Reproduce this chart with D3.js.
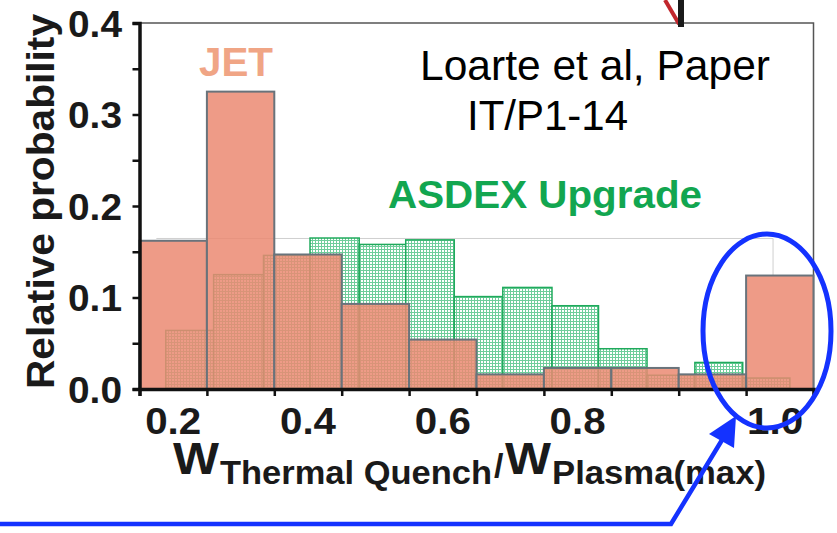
<!DOCTYPE html>
<html>
<head>
<meta charset="utf-8">
<script src="https://cdn.jsdelivr.net/npm/d3@7"></script>
<style>
  body { margin: 0; background: #fff; }
  svg { display: block; font-family: "Liberation Sans", Arial, sans-serif; }
</style>
</head>
<body>
<svg id="chart" width="837" height="533"></svg>
<script>
// JET histogram, bins of 0.1
const jetEdges = [0.15, 0.25, 0.35, 0.45, 0.55, 0.65, 0.75, 0.85, 0.95, 1.05, 1.15];
const jetValues = [0.162, 0.325, 0.147, 0.093, 0.054, 0.016, 0.023, 0.023, 0.016, 0.124];

// ASDEX Upgrade histogram (its own, narrower bins)
const asdexEdges = [0.189, 0.26, 0.334, 0.403, 0.476, 0.545, 0.617, 0.689, 0.762, 0.831, 0.903, 0.974, 1.045, 1.115];
const asdexValues = [0.064, 0.125, 0.146, 0.165, 0.158, 0.163, 0.101, 0.111, 0.091, 0.044, 0.015, 0.029, 0.012];

const yTicks = [0, 0.05, 0.1, 0.15, 0.2, 0.25, 0.3, 0.35, 0.4];
const xLabels = ["0.2", "0.4", "0.6", "0.8", "1.0"];
const xLabelPos = [0.2, 0.4, 0.6, 0.8, 1.093];

const svg = d3.select("#chart");

const x = d3.scaleLinear().domain([0.15, 1.15]).range([139.5, 813.5]);
const y = d3.scaleLinear().domain([0, 0.4]).range([389, 23]);

// hatch for ASDEX bars
const defs = svg.append("defs");
const pat = defs.append("pattern")
  .attr("id", "hatch")
  .attr("width", 3)
  .attr("height", 3)
  .attr("patternUnits", "userSpaceOnUse");
pat.append("rect").attr("width", 3).attr("height", 3).attr("fill", "#fff");
pat.append("rect").attr("width", 1).attr("height", 3).attr("fill", "#6fcd9b");
pat.append("rect").attr("width", 3).attr("height", 1).attr("fill", "#6fcd9b");

// plot frame (top/right)
svg.append("path")
  .attr("d", `M${x(0.15)},${y(0.4)}H${x(1.15)}V${y(0)}`)
  .attr("fill", "none")
  .attr("stroke", "#555")
  .attr("stroke-width", 1.5);

// faint frame of the ASDEX plot
svg.append("path")
  .attr("d", `M${x(0.175)},${y(0.1645)}H${x(1.09)}V${y(0.124)}`)
  .attr("fill", "none")
  .attr("stroke", "#cfcfcf")
  .attr("stroke-width", 1);

const asdex = asdexValues.map((v, i) => ({ x0: asdexEdges[i], x1: asdexEdges[i + 1], v }));
const jet = jetValues.map((v, i) => ({ x0: jetEdges[i], x1: jetEdges[i + 1], v }));

svg.append("g")
  .selectAll("rect")
  .data(asdex)
  .enter()
  .append("rect")
  .attr("x", d => x(d.x0))
  .attr("y", d => y(d.v))
  .attr("width", d => x(d.x1) - x(d.x0))
  .attr("height", d => y(0) - y(d.v))
  .attr("fill", "url(#hatch)")
  .attr("stroke", "#1faa5c")
  .attr("stroke-width", 1.5);

svg.append("g")
  .selectAll("rect")
  .data(jet)
  .enter()
  .append("rect")
  .attr("x", d => x(d.x0))
  .attr("y", d => y(d.v))
  .attr("width", d => x(d.x1) - x(d.x0))
  .attr("height", d => y(0) - y(d.v))
  .attr("fill", "#eb8a72")
  .attr("fill-opacity", 0.85)
  .attr("stroke", "#69737b")
  .attr("stroke-width", 2);

// axes
const yAxis = svg.append("g")
  .attr("transform", `translate(${x(0.15)},0)`)
  .call(d3.axisLeft(y).tickValues(yTicks).tickSize(7).tickFormat(""));
const xAxis = svg.append("g")
  .attr("transform", `translate(0,${y(0)})`)
  .call(d3.axisBottom(x).tickValues(jetEdges).tickSize(7).tickFormat(""));
[yAxis, xAxis].forEach(g => {
  g.select(".domain").attr("stroke", "#111").attr("stroke-width", 3.5);
  g.selectAll(".tick line").attr("stroke", "#111").attr("stroke-width", 2.5);
});

svg.append("g")
  .selectAll("text")
  .data(yTicks.filter((d, i) => i % 2 === 0))
  .enter()
  .append("text")
  .attr("x", 122)
  .attr("y", d => y(d) + 13.5)
  .attr("text-anchor", "end")
  .attr("font-size", 37)
  .attr("font-weight", "bold")
  .attr("fill", "#1a1a1a")
  .attr("textLength", 54)
  .attr("lengthAdjust", "spacingAndGlyphs")
  .text(d => d.toFixed(1));

svg.append("g")
  .selectAll("text")
  .data(xLabels)
  .enter()
  .append("text")
  .attr("x", (d, i) => x(xLabelPos[i]) - 28)
  .attr("y", 434)
  .attr("font-size", 37)
  .attr("font-weight", "bold")
  .attr("fill", "#1a1a1a")
  .attr("textLength", 56)
  .attr("lengthAdjust", "spacingAndGlyphs")
  .text(d => d);

// axis titles
svg.append("text")
  .attr("transform", "translate(54,389) rotate(-90)")
  .attr("font-size", 39)
  .attr("font-weight", "bold")
  .attr("fill", "#1a1a1a")
  .attr("textLength", 375)
  .attr("lengthAdjust", "spacingAndGlyphs")
  .text("Relative probability");

// x title as one text with sub-parts
const xt = svg.append("text").attr("font-weight", "bold").attr("fill", "#1a1a1a");
xt.append("tspan").attr("x", 173).attr("y", 474).attr("font-size", 44)
  .attr("textLength", 46).attr("lengthAdjust", "spacingAndGlyphs").text("W");
xt.append("tspan").attr("x", 220).attr("y", 484).attr("font-size", 34)
  .attr("textLength", 272).attr("lengthAdjust", "spacingAndGlyphs").text("Thermal Quench");
xt.append("tspan").attr("x", 494).attr("y", 477).attr("font-size", 34).text("/");
xt.append("tspan").attr("x", 505).attr("y", 474).attr("font-size", 44)
  .attr("textLength", 46).attr("lengthAdjust", "spacingAndGlyphs").text("W");
xt.append("tspan").attr("x", 552).attr("y", 484).attr("font-size", 34)
  .attr("textLength", 214).attr("lengthAdjust", "spacingAndGlyphs").text("Plasma(max)");

// annotations
svg.append("text")
  .attr("x", 199).attr("y", 76)
  .attr("font-size", 41).attr("font-weight", "bold").attr("fill", "#f0a585")
  .attr("textLength", 74).attr("lengthAdjust", "spacingAndGlyphs")
  .text("JET");

svg.append("text")
  .attr("x", 420).attr("y", 80)
  .attr("font-size", 42).attr("fill", "#000")
  .attr("textLength", 350).attr("lengthAdjust", "spacingAndGlyphs")
  .text("Loarte et al, Paper");
svg.append("text")
  .attr("x", 467).attr("y", 130)
  .attr("font-size", 42).attr("fill", "#000")
  .attr("textLength", 161).attr("lengthAdjust", "spacingAndGlyphs")
  .text("IT/P1-14");

svg.append("text")
  .attr("x", 388).attr("y", 208)
  .attr("font-size", 39).attr("font-weight", "bold").attr("fill", "#12a650")
  .attr("textLength", 314).attr("lengthAdjust", "spacingAndGlyphs")
  .text("ASDEX Upgrade");

// red / black marks at the top edge
svg.append("line")
  .attr("x1", 665).attr("y1", 0).attr("x2", 679).attr("y2", 24)
  .attr("stroke", "#c1272d").attr("stroke-width", 4);
svg.append("rect")
  .attr("x", 678).attr("y", 0).attr("width", 6).attr("height", 27)
  .attr("fill", "#1a1a1a");

// blue ellipse and arrow
svg.append("ellipse")
  .attr("cx", 767).attr("cy", 331).attr("rx", 64).attr("ry", 97)
  .attr("fill", "none").attr("stroke", "#1432ff").attr("stroke-width", 5);

svg.append("path")
  .attr("d", "M0,524H671L722,440")
  .attr("fill", "none").attr("stroke", "#1432ff").attr("stroke-width", 4.5);
svg.append("path")
  .attr("d", "M736,416L709,434L734,448Z")
  .attr("fill", "#1432ff");
</script>
</body>
</html>
